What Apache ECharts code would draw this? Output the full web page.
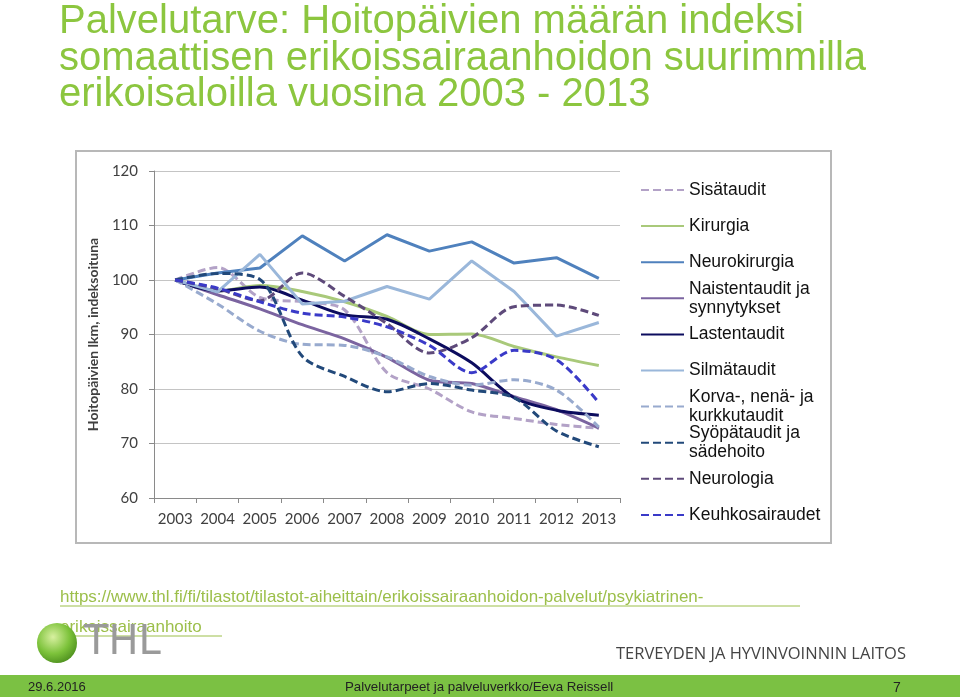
<!DOCTYPE html>
<html><head><meta charset="utf-8">
<script src="https://cdn.jsdelivr.net/npm/echarts@6/dist/echarts.min.js"></script>
<style>html,body{margin:0;padding:0;background:#fff}#c{width:960px;height:697px}</style>
</head><body><div id="c"></div>
<script>
const years = ['2003','2004','2005','2006','2007','2008','2009','2010','2011','2012','2013'];
const yTicks = {min: 60, max: 120, interval: 10};
const names = ['Sisätaudit','Kirurgia','Neurokirurgia','Naistentaudit ja synnytykset','Lastentaudit','Silmätaudit','Korva-, nenä- ja kurkkutaudit','Syöpätaudit ja sädehoito','Neurologia','Keuhkosairaudet'];
const legendLabels = ['Sisätaudit','Kirurgia','Neurokirurgia','Naistentaudit ja\nsynnytykset','Lastentaudit','Silmätaudit','Korva-, nenä- ja\nkurkkutaudit','Syöpätaudit ja\nsädehoito','Neurologia','Keuhkosairaudet'];
const sisataudit   = [100, 102.3, 96.8, 96.0, 94.5, 83.0, 80.0, 75.8, 74.6, 73.5, 72.8];
const kirurgia     = [100, 98.0, 99.0, 97.9, 96.0, 93.3, 90.0, 90.1, 87.8, 85.9, 84.3];
const neurokirurgia= [100, 101.3, 102.2, 108.1, 103.5, 108.3, 105.3, 107.0, 103.1, 104.1, 100.3];
const naistentaudit= [100, 97.3, 94.7, 91.8, 89.2, 85.8, 81.6, 81.0, 78.6, 76.2, 72.8];
const lastentaudit = [100, 98.0, 98.7, 96.3, 93.6, 92.8, 89.2, 84.8, 78.4, 76.1, 75.2];
const silmataudit  = [100, 97.8, 104.7, 95.6, 96.1, 98.8, 96.5, 103.5, 97.9, 89.7, 92.2];
const korva        = [100, 95.6, 90.6, 88.2, 88.0, 85.9, 82.3, 80.7, 81.7, 79.8, 73.0];
const syopa        = [100, 101.2, 100.1, 86.0, 82.3, 79.5, 81.0, 79.8, 78.4, 72.3, 69.4];
const neurologia   = [100, 98.4, 96.2, 101.3, 97.0, 92.0, 86.6, 89.4, 95.1, 95.4, 93.5];
const keuhko       = [100, 98.5, 96.0, 93.9, 93.2, 91.4, 88.0, 83.0, 87.1, 85.4, 77.5];
const seriesData = [sisataudit,kirurgia,neurokirurgia,naistentaudit,lastentaudit,silmataudit,korva,syopa,neurologia,keuhko];
const colors = ['#b3a2c7','#a9c97a','#4f81bd','#7b64a0','#0c0c5e','#9ab7da','#98aace','#22497a','#5e4a7a','#3a3ac8'];
const dashed = [true,false,false,false,false,false,true,true,true,true];
const smoothed = [0.3,0.3,0,0.25,0.3,0,0.3,0.3,0.3,0.3];

const chart = echarts.init(document.getElementById('c'));
const legendY = names.map((n,i)=>190 + i*36.1);
const legends = names.map((n,i)=>{
  const wrapped = legendLabels[i].indexOf('\n')>=0;
  return {
    data:[n], orient:'vertical', left:640, top: wrapped ? legendY[i]-28.5 : legendY[i]-9.5,
    itemWidth:43, itemHeight:14, itemGap:0, padding:0, selectedMode:false,
    itemStyle:{opacity:0},
    formatter: ()=>legendLabels[i],
    textStyle:{fontFamily:'Liberation Sans, Arial', fontSize:17.5, color:'#111', lineHeight:19, padding: wrapped?[19,0,0,0]:0}
  };
});
chart.setOption({
  animation:false,
  title:{text:'Palvelutarve: Hoitopäivien määrän indeksi\nsomaattisen erikoissairaanhoidon suurimmilla\nerikoisaloilla vuosina 2003 - 2013', left:59, top:4, padding:0,
    textStyle:{fontFamily:'Liberation Sans, Arial', fontSize:40, fontWeight:'normal', color:'#8cc63f', lineHeight:36.5}},
  legend: legends,
  grid:{left:154, right:340, top:171, bottom:199},
  xAxis:{type:'category', data:years, boundaryGap:true,
    axisLine:{show:true, lineStyle:{color:'#8a8a8a', width:1}},
    axisTick:{show:true, length:5, lineStyle:{color:'#8a8a8a'}},
    axisLabel:{interval:0, fontFamily:'Lato', fontSize:15, color:'#404040', margin:14}},
  yAxis:{type:'value', min:yTicks.min, max:yTicks.max, interval:yTicks.interval,
    name:'Hoitopäivien lkm, indeksoituna', nameLocation:'middle', nameRotate:90, nameGap:54,
    nameTextStyle:{fontFamily:'Lato', fontSize:14, fontWeight:'bold', color:'#404040'},
    axisLine:{show:true, lineStyle:{color:'#8a8a8a', width:1}},
    axisTick:{show:true, length:5, lineStyle:{color:'#8a8a8a'}},
    splitLine:{lineStyle:{color:'#c4c4c4', width:1}},
    axisLabel:{fontFamily:'Lato', fontSize:15, color:'#404040', margin:16}},
  series: names.map((n,i)=>({
    name:n, type:'line', data:seriesData[i], symbol:'none', smooth:smoothed[i],
    color: colors[i],
    lineStyle:{color:colors[i], width:3, type: dashed[i]?[8,4]:'solid'}
  })),
  graphic:[
    {type:'rect', shape:{x:76, y:151, width:755, height:392}, style:{fill:'none', stroke:'#b8b8b8', lineWidth:2}, z:-1},
    {type:'text', left:60, top:589, style:{text:'https://www.thl.fi/fi/tilastot/tilastot-aiheittain/erikoissairaanhoidon-palvelut/psykiatrinen-', fontFamily:'Liberation Sans, Arial', fontSize:17, fill:'#9cbf4a'}},
    {type:'line', shape:{x1:60, y1:606, x2:800, y2:606}, style:{stroke:'#9cbf4a', lineWidth:1}},
    {type:'text', left:60, top:619, style:{text:'erikoissairaanhoito', fontFamily:'Liberation Sans, Arial', fontSize:17, fill:'#9cbf4a'}},
    {type:'line', shape:{x1:60, y1:636, x2:222, y2:636}, style:{stroke:'#9cbf4a', lineWidth:1}},
    {type:'circle', shape:{cx:57, cy:643, r:20}, style:{fill:{type:'radial', x:0.4, y:0.35, r:0.7, colorStops:[{offset:0,color:'#d8f0a0'},{offset:0.6,color:'#7cc23a'},{offset:1,color:'#4d8f1e'}]}}},
    {type:'text', left:84, top:624, style:{text:'THL', fontFamily:'DejaVu Sans', fontSize:40, fill:'#9a9a9a', fontWeight:'normal'}},
    {type:'text', left:616, top:646, style:{text:'TERVEYDEN JA HYVINVOINNIN LAITOS', fontFamily:'Open Sans', fontSize:16.5, fill:'#444'}},
    {type:'rect', shape:{x:0, y:675, width:960, height:22}, style:{fill:'#7bc143'}},
    {type:'text', left:28, top:681, style:{text:'29.6.2016', fontFamily:'Liberation Sans, Arial', fontSize:13, fill:'#222'}},
    {type:'text', left:345, top:681, style:{text:'Palvelutarpeet ja palveluverkko/Eeva Reissell', fontFamily:'Liberation Sans, Arial', fontSize:13.3, fill:'#222'}},
    {type:'text', left:893, top:681, style:{text:'7', fontFamily:'Liberation Sans, Arial', fontSize:14, fill:'#222'}}
  ]
});
</script></body></html>
